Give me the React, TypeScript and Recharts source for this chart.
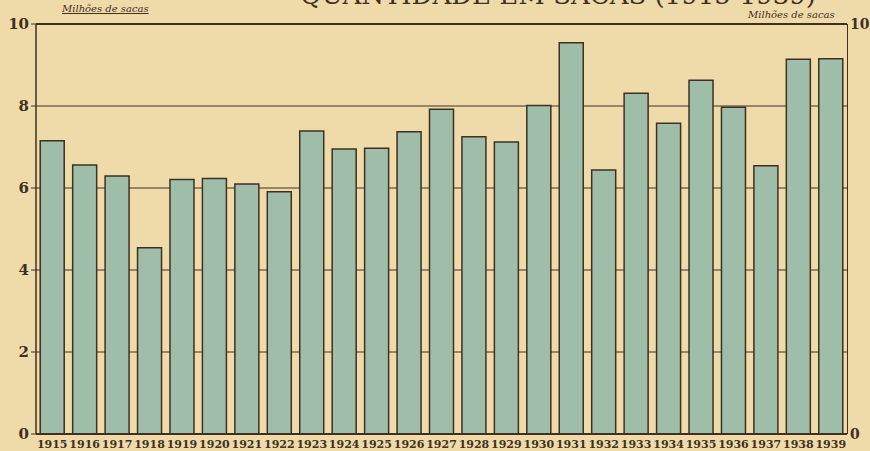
import React from "react";
import { Bar, BarChart, CartesianGrid, ReferenceLine, XAxis, YAxis } from "recharts";

const years = [
  "1915", "1916", "1917", "1918", "1919", "1920", "1921", "1922", "1923", "1924", "1925", "1926", "1927",
  "1928", "1929", "1930", "1931", "1932", "1933", "1934", "1935", "1936", "1937", "1938", "1939",
];
const sacks = [
  7.15, 6.56, 6.29, 4.54, 6.21, 6.23, 6.1, 5.91, 7.39, 6.95, 6.97, 7.37, 7.92,
  7.25, 7.12, 8.01, 9.54, 6.44, 8.31, 7.58, 8.63, 7.97, 6.54, 9.14, 9.15,
];
const yTicks = [0, 2, 4, 6, 8, 10];
const rightLabels = [0, 10];
const unitLabel = "Milhões de sacas";
const titleText = "QUANTIDADE EM SACAS (1915-1939)";

const data = years.map((year, i) => ({ year, value: sacks[i] }));

const ink = "#3f3020";
const paper = "#efdaa9";
const barFill = "#9fbea9";

export default function App() {
  return (
    <div
      style={{
        position: "fixed",
        left: 0,
        top: 0,
        width: 870,
        height: 451,
        background: paper,
        overflow: "hidden",
      }}
    >
      <div
        style={{
          position: "absolute",
          left: 300,
          top: -20,
          fontFamily: "DejaVu Serif",
          fontSize: 26,
          color: ink,
          whiteSpace: "nowrap",
        }}
      >
        {titleText}
      </div>
      <div
        style={{
          position: "absolute",
          left: 62,
          top: 3,
          fontFamily: "DejaVu Serif",
          fontStyle: "italic",
          fontSize: 10,
          color: ink,
          textDecoration: "underline",
        }}
      >
        {unitLabel}
      </div>
      <div
        style={{
          position: "absolute",
          left: 748,
          top: 9,
          fontFamily: "DejaVu Serif",
          fontStyle: "italic",
          fontSize: 10,
          color: ink,
        }}
      >
        {unitLabel}
      </div>
      <BarChart
        width={870}
        height={451}
        data={data}
        margin={{ top: 24, right: 23, bottom: 0, left: 0 }}
        barCategoryGap="13%"
      >
        <CartesianGrid vertical={false} stroke={ink} strokeWidth={1} />
        <XAxis
          dataKey="year"
          height={17}
          interval={0}
          tickLine={false}
          axisLine={{ stroke: ink, strokeWidth: 2 }}
          tick={{ fontSize: 11, fontWeight: 700, fill: ink, fontFamily: "DejaVu Serif" }}
          tickMargin={0}
        />
        <YAxis
          width={36}
          domain={[0, 10]}
          ticks={yTicks}
          tickSize={5}
          tickLine={{ stroke: ink }}
          axisLine={{ stroke: ink, strokeWidth: 1.5 }}
          tick={{ fontSize: 15, fontWeight: 700, fill: ink, fontFamily: "DejaVu Serif" }}
          tickMargin={2}
        />
        {rightLabels.map((t) => (
          <ReferenceLine
            key={t}
            y={t}
            stroke={ink}
            strokeWidth={2}
            label={{
              value: String(t),
              position: "right",
              offset: 3,
              fill: ink,
              fontSize: 14,
              fontWeight: 700,
              fontFamily: "DejaVu Serif",
            }}
          />
        ))}
        <Bar
          dataKey="value"
          fill={barFill}
          stroke={ink}
          strokeWidth={1.5}
          isAnimationActive={false}
        />
      </BarChart>
      <div
        style={{
          position: "absolute",
          left: 847,
          top: 24,
          width: 1,
          height: 410,
          background: ink,
        }}
      />
    </div>
  );
}
